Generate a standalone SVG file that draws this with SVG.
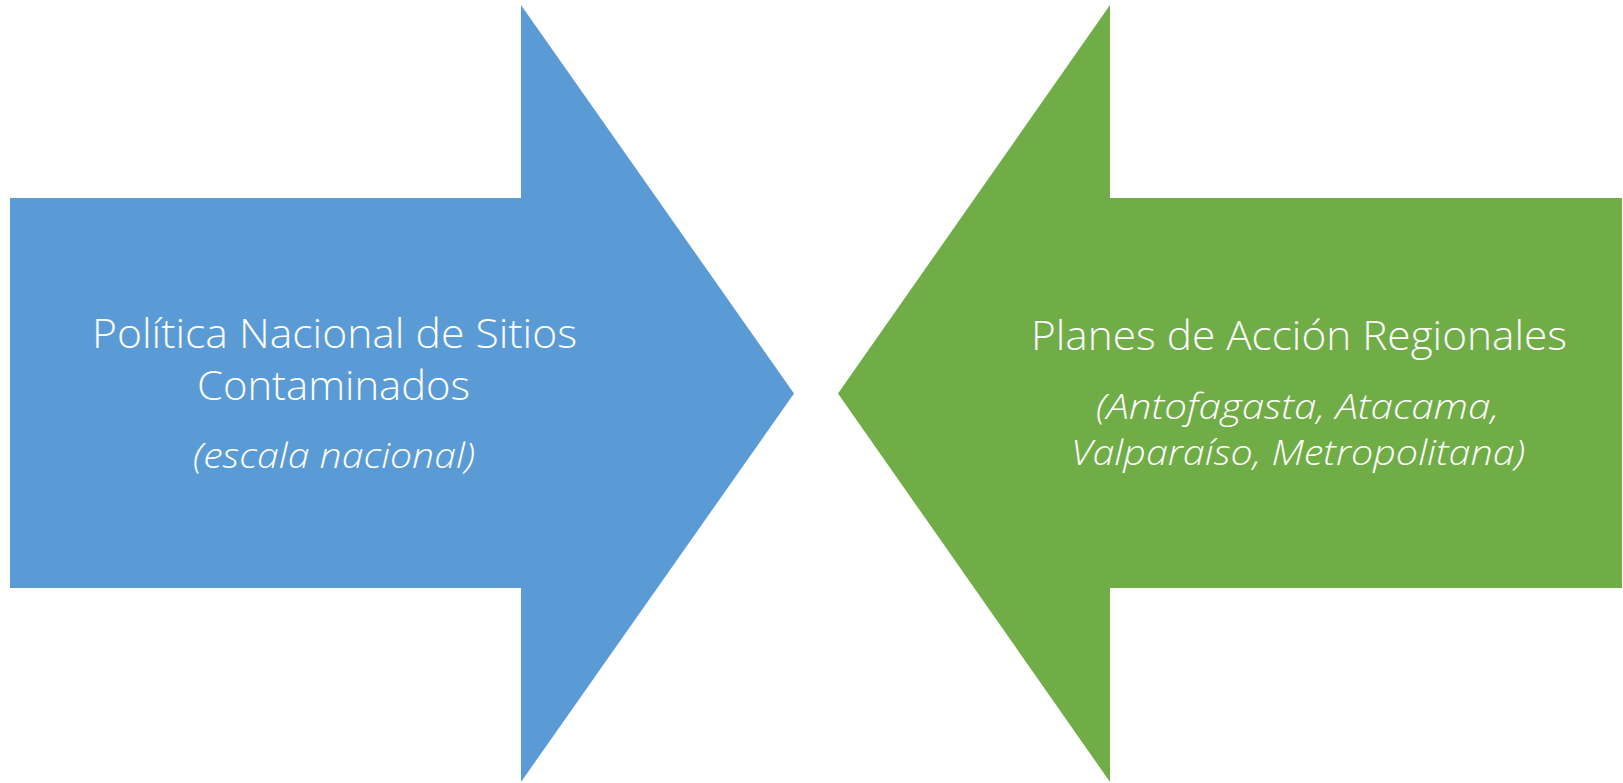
<svg xmlns="http://www.w3.org/2000/svg" width="1623" height="783" viewBox="0 0 1623 783">
  <style>
    .lbl { fill: #FFFFFF; font-family: "Open Sans", "Lato", "Liberation Sans", sans-serif; font-weight: 300; }
    .main { font-size: 40px; }
    .sub { font-size: 35px; font-style: italic; }
  </style>
  <rect x="0" y="0" width="1623" height="783" fill="#FFFFFF"/>
  <g id="node-politica-nacional">
    <path d="M10,198 H521 V5 L794,393.5 L521,782 V588 H10 Z" fill="#5B9BD5"/>
    <text class="lbl main" x="92" y="347.5" textLength="485" lengthAdjust="spacingAndGlyphs">Política Nacional de Sitios</text>
    <text class="lbl main" x="197" y="399.5" textLength="273" lengthAdjust="spacingAndGlyphs">Contaminados</text>
    <text class="lbl sub" x="193" y="468" textLength="282" lengthAdjust="spacingAndGlyphs">(escala nacional)</text>
  </g>
  <g id="node-planes-regionales">
    <path d="M1622,198 H1110 V5 L838,393.5 L1110,782 V588 H1622 Z" fill="#70AD47"/>
    <text class="lbl main" x="1031" y="350" textLength="536" lengthAdjust="spacingAndGlyphs">Planes de Acción Regionales</text>
    <text class="lbl sub" x="1096" y="419" textLength="403" lengthAdjust="spacingAndGlyphs">(Antofagasta, Atacama,</text>
    <text class="lbl sub" x="1071" y="464.5" textLength="454" lengthAdjust="spacingAndGlyphs">Valparaíso, Metropolitana)</text>
  </g>
  <g id="connectors"></g>
</svg>
